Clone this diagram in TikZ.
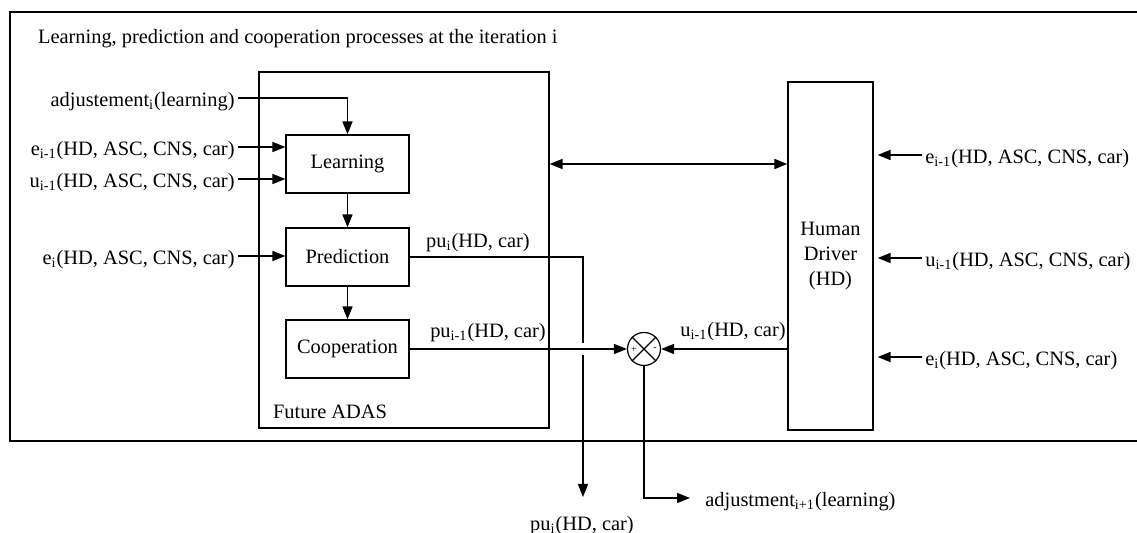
\documentclass[tikz,border=0pt]{standalone}
\usepackage{fontspec}
\setmainfont{Liberation Serif}
\usepackage{tikz}
\usetikzlibrary{arrows.meta}

\tikzset{
  bloc/.style={draw, line width=0.6pt, minimum width=61.5pt, minimum height=29pt, inner sep=0pt},
  lbl/.style={inner sep=1.5pt, text height=10pt, text depth=1pt},
  fl/.style={line width=0.8pt, -{Triangle[length=6.5pt,width=5pt]}},
  petit/.style={font=\fontsize{5}{6}\selectfont, inner sep=0pt},
}

\begin{document}
\begin{tikzpicture}[x=0.5pt, y=-0.5pt, font=\fontsize{10.2}{12.5}\selectfont]
\useasboundingbox (0,0) rectangle (1137,533);

%% cadre general
\draw[line width=0.7pt] (1137,12) -- (10,12) -- (10,441) -- (1137,441);
\node[anchor=west] (titre) at (31,39) {Learning, prediction and cooperation processes at the iteration i};

%% Future ADAS
\node[draw, line width=0.6pt, minimum width=145pt, minimum height=178pt] (adas) at (404,250) {};
\node[anchor=west] (adaslbl) at (266,412) {Future ADAS};

%% blocs
\node[bloc] (learn) at (347.5,164) {Learning};
\node[bloc] (pred) at (347.5,257) {Prediction};
\node[bloc] (coop) at (347.5,349) {Cooperation};

%% Human Driver
\node[draw, line width=0.6pt, minimum width=42.5pt, minimum height=174pt, align=center] (hd) at (830.5,256) {Human\\Driver\\(HD)};

%% comparateur
\node[circle, draw, line width=0.6pt, minimum size=16.5pt, inner sep=0pt] (sum) at (644,349) {};
\draw[line width=0.6pt] (sum.north west) -- (sum.south east);
\draw[line width=0.6pt] (sum.north east) -- (sum.south west);
\node[petit] (plus) at (634,350) {+};
\node[petit] (moins) at (655,349) {-};

%% entrees gauche
\node[lbl, anchor=east] (adj) at (238,98) {adjustement\textsubscript{i}(learning)};
\node[lbl, anchor=east] (eim) at (238,147) {e\textsubscript{i-1}(HD, ASC, CNS, car)};
\node[lbl, anchor=east] (uim) at (238,179) {u\textsubscript{i-1}(HD, ASC, CNS, car)};
\node[lbl, anchor=east] (ei) at (238,256) {e\textsubscript{i}(HD, ASC, CNS, car)};

\draw[fl] (adj.east) -| (learn.north);
\draw[fl] (eim.east) -- (eim.east -| learn.west);
\draw[fl] (uim.east) -- (uim.east -| learn.west);
\draw[fl] (ei.east) -- (ei.east -| pred.west);

%% enchainement
\draw[fl] (learn.south) -- (pred.north);
\draw[fl] (pred.south) -- (coop.north);

%% ADAS <-> HD
\draw[line width=0.8pt, {Triangle[length=6.5pt,width=5pt]}-{Triangle[length=6.5pt,width=5pt]}] (learn -| adas.east) -- (learn -| hd.west);

%% sortie prediction
\coordinate (puout) at (583,497);
\draw[fl] (pred.east) -| (puout);
\node (pulbl) at (478,243) {pu\textsubscript{i}(HD, car)};
\node[lbl] (pubas) at (582,522) {pu\textsubscript{i}(HD, car)};
\draw[white, line width=2pt] (583,343) -- (583,355);

%% sortie cooperation
\draw[fl] (coop.east) -- (sum.west);
\node (puim) at (488,333) {pu\textsubscript{i-1}(HD, car)};

%% retour HD
\draw[fl] (sum -| hd.west) -- (sum.east);
\node (uhd) at (733,332) {u\textsubscript{i-1}(HD, car)};

%% ajustement
\coordinate (adjout) at (690,498);
\draw[fl] (sum.south) |- (adjout);
\node[lbl, anchor=west] (adjlbl) at (702,498) {adjustment\textsubscript{i+1}(learning)};

%% entrees droite
\node[lbl, anchor=west] (r1) at (922,155) {e\textsubscript{i-1}(HD, ASC, CNS, car)};
\node[lbl, anchor=west] (r2) at (922,258) {u\textsubscript{i-1}(HD, ASC, CNS, car)};
\node[lbl, anchor=west] (r3) at (922,357) {e\textsubscript{i}(HD, ASC, CNS, car)};
\draw[fl, shorten >=2pt] (r1.west) -- (r1.west -| hd.east);
\draw[fl, shorten >=2pt] (r2.west) -- (r2.west -| hd.east);
\draw[fl, shorten >=2pt] (r3.west) -- (r3.west -| hd.east);
\end{tikzpicture}
\end{document}
